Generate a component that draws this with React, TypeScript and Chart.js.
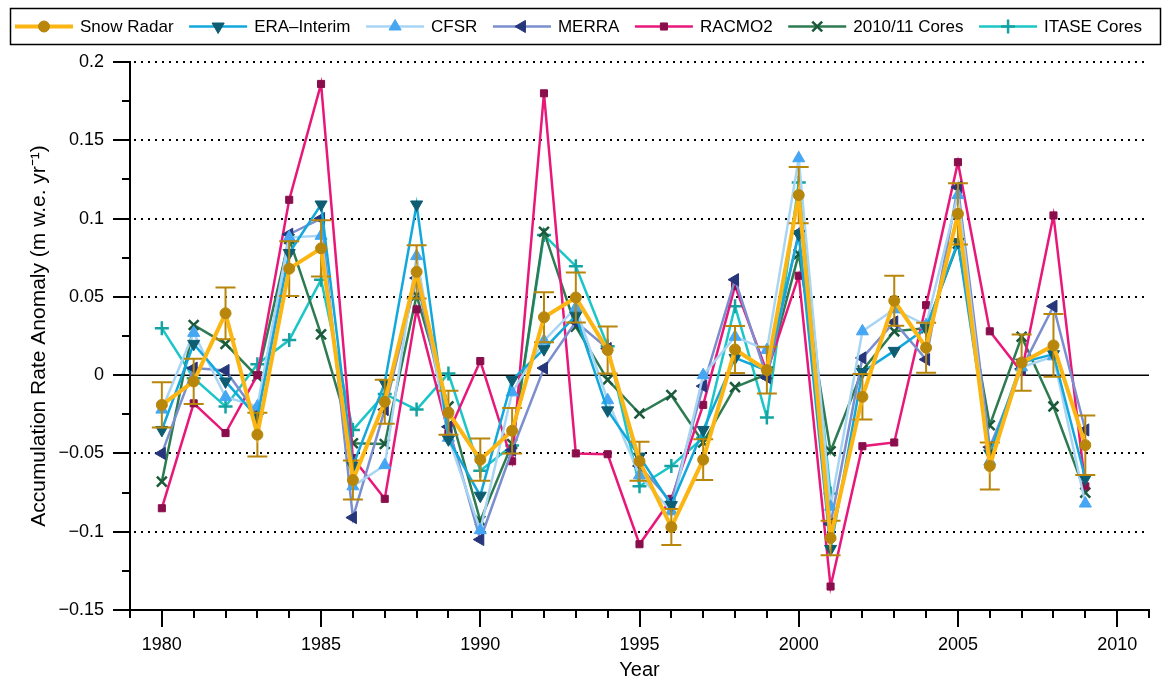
import { useEffect, useRef } from 'react';
import { Chart, registerables } from 'chart.js';
import { drawPoint } from 'chart.js/helpers';

Chart.register(...registerables);

// ---- data -------------------------------------------------------------
const years = [
  1980, 1981, 1982, 1983, 1984, 1985, 1986, 1987, 1988, 1989,
  1990, 1991, 1992, 1993, 1994, 1995, 1996, 1997, 1998, 1999,
  2000, 2001, 2002, 2003, 2004, 2005, 2006, 2007, 2008, 2009,
];
const itaseYears = [
  1980, 1981, 1982, 1983, 1984, 1985, 1986, 1987, 1988, 1989, 1990,
  1991, 1992, 1993, 1994, 1995, 1996, 1997, 1998, 1999, 2000, 2001,
];

const snowRadar = [
  -0.019, -0.004, 0.0395, -0.038, 0.068, 0.081, -0.067, -0.017, 0.066, -0.024,
  -0.054, -0.0355, 0.037, 0.0496, 0.016, -0.055, -0.097, -0.054, 0.0164, 0.0032,
  0.115, -0.104, -0.0138, 0.0475, 0.0175, 0.103, -0.058, 0.008, 0.019, -0.0447,
];
const snowRadarErr = [
  0.0145, 0.0145, 0.0165, 0.014, 0.0175, 0.018, 0.0125, 0.014, 0.017, 0.014,
  0.0135, 0.0145, 0.016, 0.016, 0.015, 0.0125, 0.0115, 0.013, 0.015, 0.015,
  0.018, 0.011, 0.0145, 0.016, 0.016, 0.0195, 0.015, 0.018, 0.02, 0.019,
];
const eraInterim = [
  -0.035, 0.02, -0.004, -0.027, 0.078, 0.109, -0.058, -0.005, 0.109, -0.041,
  -0.077, -0.003, 0.0166, 0.038, -0.0225, -0.052, -0.083, -0.035, 0.011, 0.003,
  0.09, -0.111, 0.002, 0.0155, 0.03, 0.085, -0.05, 0.008, 0.0134, -0.066,
];
const cfsr = [
  -0.022, 0.027, -0.014, -0.02, 0.088, 0.089, -0.071, -0.0575, 0.076, -0.04,
  -0.099, -0.011, 0.022, 0.043, -0.016, -0.064, -0.087, 0.0, 0.0245, 0.016,
  0.1385, -0.084, 0.028, 0.042, 0.032, 0.115, -0.055, 0.005, 0.012, -0.082,
];
const merra = [
  -0.05, 0.0045, 0.003, -0.025, 0.09, 0.1, -0.091, -0.022, 0.062, -0.033,
  -0.105, -0.048, 0.0045, 0.034, 0.017, -0.058, -0.081, -0.007, 0.061, -0.0015,
  0.091, -0.095, 0.011, 0.034, 0.01, 0.12, -0.046, 0.004, 0.044, -0.035,
];
const racmo2 = [
  -0.085, -0.018, -0.037, 0.0, 0.112, 0.186, -0.053, -0.079, 0.042, -0.037,
  0.009, -0.055, 0.18, -0.05, -0.0505, -0.108, -0.079, -0.019, 0.057, 0.002,
  0.0635, -0.135, -0.0454, -0.043, 0.0447, 0.136, 0.028, 0.002, 0.102, -0.071,
];
const cores201011 = [
  -0.068, 0.032, 0.02, -0.001, 0.087, 0.026, -0.0435, -0.044, 0.051, -0.02,
  -0.093, -0.044, 0.0916, 0.031, -0.003, -0.0245, -0.0128, -0.043, -0.0077, 0.0006,
  0.0773, -0.0486, 0.003, 0.028, 0.03, 0.084, -0.032, 0.0245, -0.02, -0.075,
];
const itaseCores = [
  0.03, -0.002, -0.02, 0.007, 0.0224, 0.061, -0.035, -0.012, -0.022, 0.001, -0.061,
  -0.045, 0.0895, 0.0696, 0.0185, -0.071, -0.058, -0.04, 0.044, -0.027, 0.123, -0.0756,
];

// ---- axes -------------------------------------------------------------
const xMin = 1979;
const xMax = 2011;
const xLabelYears = [1980, 1985, 1990, 1995, 2000, 2005, 2010];
const yMin = -0.15;
const yMax = 0.2;
const yTickValues = [-0.15, -0.1, -0.05, 0, 0.05, 0.1, 0.15, 0.2];
const yMinorValues = [-0.125, -0.075, -0.025, 0.025, 0.075, 0.125, 0.175];
const dottedGridValues = [-0.1, -0.05, 0.05, 0.1, 0.15, 0.2];

const FONT = '"Liberation Sans", Arial, sans-serif';

type SeriesStyle = {
  label: string;
  xs: number[];
  ys: number[];
  line: string;
  marker: string;
  lineWidth: number;
  pointStyle: string;
  rotation: number;
  radius: number;
  markerWidth: number;
};

const series: SeriesStyle[] = [
  { label: 'Snow Radar', xs: years, ys: snowRadar, line: '#fcb614', marker: '#b8860b', lineWidth: 4, pointStyle: 'circle', rotation: 0, radius: 5.5, markerWidth: 1 },
  { label: 'ERA\u2013Interim', xs: years, ys: eraInterim, line: '#12a8dc', marker: '#0e5d72', lineWidth: 2.5, pointStyle: 'triangle', rotation: 180, radius: 7, markerWidth: 1 },
  { label: 'CFSR', xs: years, ys: cfsr, line: '#a9d5f4', marker: '#45a6f3', lineWidth: 2.5, pointStyle: 'triangle', rotation: 0, radius: 7, markerWidth: 1 },
  { label: 'MERRA', xs: years, ys: merra, line: '#7b8ece', marker: '#27367a', lineWidth: 2.5, pointStyle: 'triangle', rotation: 270, radius: 7, markerWidth: 1 },
  { label: 'RACMO2', xs: years, ys: racmo2, line: '#e8187b', marker: '#8a0e4c', lineWidth: 2.5, pointStyle: 'rect', rotation: 0, radius: 5, markerWidth: 1 },
  { label: '2010/11 Cores', xs: years, ys: cores201011, line: '#2e7b52', marker: '#1a5a3a', lineWidth: 2.5, pointStyle: 'crossRot', rotation: 0, radius: 7, markerWidth: 2.5 },
  { label: 'ITASE Cores', xs: itaseYears, ys: itaseCores, line: '#1cc6c6', marker: '#14a2a2', lineWidth: 2.5, pointStyle: 'cross', rotation: 0, radius: 7, markerWidth: 2.5 },
];

const ERR_COLOR = '#b8860b';

function formatTick(v: number): string {
  const s = String(Number(v.toFixed(3)));
  return s.replace('-', '\u2212');
}

// gridlines, error bars, tick marks and the boxed legend
const decorations = {
  id: 'decorations',
  beforeDatasetsDraw(chart: any) {
    const { ctx, chartArea: a, scales } = chart;
    const y = scales.y;
    ctx.save();
    ctx.strokeStyle = '#000';
    ctx.lineWidth = 2;
    ctx.setLineDash([2, 5]);
    dottedGridValues.forEach((v) => {
      const py = Math.round(y.getPixelForValue(v));
      ctx.beginPath();
      ctx.moveTo(a.left + 4, py);
      ctx.lineTo(a.right, py);
      ctx.stroke();
    });
    ctx.setLineDash([]);
    ctx.lineWidth = 1.5;
    const y0 = Math.round(y.getPixelForValue(0)) + 0.25;
    ctx.beginPath();
    ctx.moveTo(a.left, y0);
    ctx.lineTo(a.right, y0);
    ctx.stroke();
    ctx.restore();
  },
  beforeDatasetDraw(chart: any, args: any) {
    if (args.index !== 0) return;
    const { ctx, scales } = chart;
    const { x, y } = scales;
    ctx.save();
    ctx.strokeStyle = ERR_COLOR;
    ctx.lineWidth = 2;
    years.forEach((yr, i) => {
      const px = x.getPixelForValue(yr);
      const top = y.getPixelForValue(snowRadar[i] + snowRadarErr[i]);
      const bot = y.getPixelForValue(snowRadar[i] - snowRadarErr[i]);
      ctx.beginPath();
      ctx.moveTo(px, top);
      ctx.lineTo(px, bot);
      ctx.moveTo(px - 10, top);
      ctx.lineTo(px + 10, top);
      ctx.moveTo(px - 10, bot);
      ctx.lineTo(px + 10, bot);
      ctx.stroke();
    });
    ctx.restore();
  },
  afterDraw(chart: any) {
    const { ctx, chartArea: a, scales } = chart;
    const { x, y } = scales;
    ctx.save();
    ctx.strokeStyle = '#000';
    ctx.lineWidth = 2;
    // y ticks, pointing outward
    yTickValues.forEach((v) => {
      const py = Math.round(y.getPixelForValue(v));
      ctx.beginPath();
      ctx.moveTo(a.left - 17, py);
      ctx.lineTo(a.left, py);
      ctx.stroke();
    });
    yMinorValues.forEach((v) => {
      const py = Math.round(y.getPixelForValue(v));
      ctx.beginPath();
      ctx.moveTo(a.left - 8, py);
      ctx.lineTo(a.left, py);
      ctx.stroke();
    });
    // x ticks: every year, longer on labelled years
    for (let yr = xMin; yr <= xMax; yr++) {
      const px = Math.round(x.getPixelForValue(yr));
      const len = xLabelYears.includes(yr) ? 17 : 8;
      ctx.beginPath();
      ctx.moveTo(px, a.bottom);
      ctx.lineTo(px, a.bottom + len);
      ctx.stroke();
    }

    // legend
    const boxL = 10.5, boxT = 8.5, boxR = 1160.5, boxB = 44.5;
    ctx.lineWidth = 1.5;
    ctx.strokeRect(boxL, boxT, boxR - boxL, boxB - boxT);
    ctx.font = `17px ${FONT}`;
    ctx.textBaseline = 'middle';
    ctx.textAlign = 'left';
    const sampleW = 58;
    const textGap = 7;
    const widths = series.map((s) => ctx.measureText(s.label).width);
    const startX = 15;
    const endX = 1142;
    const used = widths.reduce((acc, w) => acc + sampleW + textGap + w, 0);
    const gap = (endX - startX - used) / (series.length - 1);
    const cy = 26.5;
    let cx = startX;
    series.forEach((s, i) => {
      ctx.strokeStyle = s.line;
      ctx.lineWidth = s.lineWidth;
      ctx.beginPath();
      ctx.moveTo(cx, cy);
      ctx.lineTo(cx + sampleW, cy);
      ctx.stroke();
      ctx.fillStyle = s.marker;
      ctx.strokeStyle = s.marker;
      ctx.lineWidth = s.markerWidth;
      drawPoint(ctx, { pointStyle: s.pointStyle as any, rotation: s.rotation, radius: s.radius, borderWidth: s.markerWidth }, cx + sampleW / 2, cy);
      ctx.fillStyle = '#000';
      ctx.fillText(s.label, cx + sampleW + textGap, cy + 1);
      cx += sampleW + textGap + widths[i] + gap;
    });
    ctx.restore();
  },
};

export default function App() {
  const canvasRef = useRef<HTMLCanvasElement>(null);

  useEffect(() => {
    const canvas = canvasRef.current;
    if (!canvas) return;
    Chart.defaults.font.family = FONT;
    Chart.defaults.color = '#000';

    const chart = new Chart(canvas, {
      type: 'line',
      data: {
        datasets: series.map((s) => ({
          label: s.label,
          data: s.xs.map((yr, i) => ({ x: yr, y: s.ys[i] })),
          borderColor: s.line,
          backgroundColor: s.marker,
          borderWidth: s.lineWidth,
          pointStyle: s.pointStyle as any,
          pointRotation: s.rotation,
          pointRadius: s.radius,
          pointBackgroundColor: s.marker,
          pointBorderColor: s.marker,
          pointBorderWidth: s.markerWidth,
          tension: 0,
          fill: false,
        })),
      },
      options: {
        responsive: false,
        animation: false,
        devicePixelRatio: 1,
        layout: { padding: { left: 0, top: 62, right: 16, bottom: 0 } },
        plugins: {
          legend: { display: false },
          tooltip: { enabled: false },
        },
        scales: {
          x: {
            type: 'linear',
            min: xMin,
            max: xMax,
            afterFit: (s: any) => { s.height = 73; },
            afterBuildTicks: (s: any) => { s.ticks = xLabelYears.map((v) => ({ value: v })); },
            grid: { display: false, drawTicks: false },
            border: { display: true, color: '#000', width: 2 },
            ticks: {
              padding: 24,
              font: { size: 18 },
              color: '#000',
              autoSkip: false,
              maxRotation: 0,
              callback: (v: any) => String(v),
            },
            title: {
              display: true,
              text: 'Year',
              font: { size: 20 },
              color: '#000',
              padding: { top: 0, bottom: 1 },
            },
          },
          y: {
            type: 'linear',
            min: yMin,
            max: yMax,
            afterFit: (s: any) => { s.width = 130; },
            afterBuildTicks: (s: any) => { s.ticks = yTickValues.map((v) => ({ value: v })); },
            grid: { display: false, drawTicks: false },
            border: { display: true, color: '#000', width: 2 },
            ticks: {
              padding: 26,
              font: { size: 18 },
              color: '#000',
              autoSkip: false,
              callback: (v: any) => formatTick(Number(v)),
            },
            title: {
              display: true,
              text: 'Accumulation Rate Anomaly (m w.e. yr\u207B\u00B9)',
              font: { size: 21 },
              color: '#000',
              padding: { top: 27, bottom: 0 },
            },
          },
        },
      },
      plugins: [decorations],
    });

    return () => chart.destroy();
  }, []);

  return (
    <div style={{ position: 'absolute', left: 0, top: 0, width: 1165, height: 683, background: '#fff' }}>
      <canvas ref={canvasRef} width={1165} height={683} style={{ display: 'block', width: 1165, height: 683 }} />
    </div>
  );
}
